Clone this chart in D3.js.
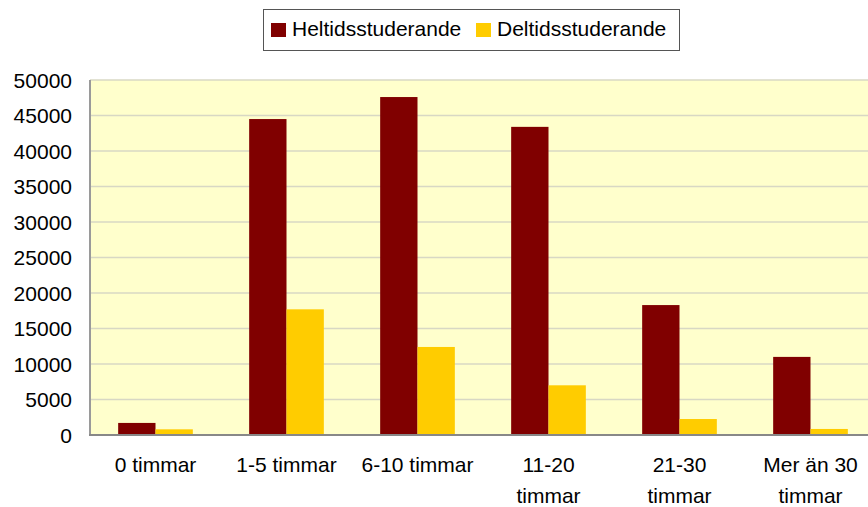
<!DOCTYPE html>
<html>
<head>
<meta charset="utf-8">
<script src="https://cdn.jsdelivr.net/npm/d3@7"></script>
<style>
  html, body { margin: 0; padding: 0; background: #fff; }
</style>
</head>
<body>
<div id="chart"></div>
<script>
// Data
const categories = ["0 timmar", "1-5 timmar", "6-10 timmar", "11-20 timmar", "21-30 timmar", "Mer än 30 timmar"];
const categoryLines = [["0 timmar"], ["1-5 timmar"], ["6-10 timmar"], ["11-20", "timmar"], ["21-30", "timmar"], ["Mer än 30", "timmar"]];
const seriesNames = ["Heltidsstuderande", "Deltidsstuderande"];
const heltid = [1700, 44500, 47600, 43400, 18300, 11000];
const deltid = [800, 17700, 12400, 7000, 2250, 850];
const yTicks = [0, 5000, 10000, 15000, 20000, 25000, 30000, 35000, 40000, 45000, 50000];

const colors = ["#800000", "#ffcc00"];

// Layout
const width = 868;
const height = 507;
const plot = { left: 90, top: 80, right: 876, bottom: 435 };
const fontFamily = "'Liberation Sans', Arial, sans-serif";
const fontSize = 21;

const svg = d3.select("#chart")
    .append("svg")
    .attr("width", width)
    .attr("height", height)
    .attr("font-family", fontFamily)
    .attr("font-size", fontSize);

const x = d3.scaleBand()
    .domain(categories)
    .range([plot.left, plot.right])
    .paddingInner(0.43)
    .paddingOuter(0.215);

const xSub = d3.scaleBand()
    .domain(seriesNames)
    .range([0, x.bandwidth()]);

const y = d3.scaleLinear()
    .domain([0, 50000])
    .range([plot.bottom, plot.top]);

// Plot background
svg.append("rect")
    .attr("x", plot.left)
    .attr("y", plot.top)
    .attr("width", plot.right - plot.left)
    .attr("height", plot.bottom - plot.top)
    .attr("fill", "#ffffcc");

// Gridlines
svg.append("g")
    .selectAll("line")
    .data(yTicks.filter(d => d > 0))
    .join("line")
    .attr("x1", plot.left)
    .attr("x2", plot.right)
    .attr("y1", d => y(d))
    .attr("y2", d => y(d))
    .attr("stroke", "#d8d8c4")
    .attr("stroke-width", 1.5);

// Bars
const rows = categories.map((c, i) => ({ category: c, values: [heltid[i], deltid[i]] }));

const group = svg.append("g")
    .selectAll("g")
    .data(rows)
    .join("g")
    .attr("transform", d => `translate(${x(d.category)},0)`);

group.selectAll("rect")
    .data(d => d.values.map((v, j) => ({ name: seriesNames[j], value: v, j })))
    .join("rect")
    .attr("x", d => xSub(d.name))
    .attr("y", d => y(d.value))
    .attr("width", xSub.bandwidth())
    .attr("height", d => y(0) - y(d.value))
    .attr("fill", d => colors[d.j]);

// Axis lines
svg.append("line")
    .attr("x1", plot.left).attr("x2", plot.left)
    .attr("y1", plot.top).attr("y2", plot.bottom)
    .attr("stroke", "#9a9a9a")
    .attr("stroke-width", 2);

svg.append("line")
    .attr("x1", plot.left - 1).attr("x2", plot.right)
    .attr("y1", plot.bottom).attr("y2", plot.bottom)
    .attr("stroke", "#888888")
    .attr("stroke-width", 2);

// Y tick labels
svg.append("g")
    .selectAll("text")
    .data(yTicks)
    .join("text")
    .attr("x", 72)
    .attr("y", d => y(d))
    .attr("dy", "0.36em")
    .attr("text-anchor", "end")
    .attr("fill", "#000")
    .text(d => d);

// Category labels
const catLabel = svg.append("g")
    .selectAll("text")
    .data(categories)
    .join("text")
    .attr("text-anchor", "middle")
    .attr("fill", "#000")
    .attr("x", d => x(d) + x.bandwidth() / 2)
    .attr("y", 472);

catLabel.selectAll("tspan")
    .data((d, i) => categoryLines[i])
    .join("tspan")
    .attr("x", function () { return d3.select(this.parentNode).attr("x"); })
    .attr("dy", (d, i) => i === 0 ? 0 : 31)
    .text(d => d);

// Legend
const legend = svg.append("g");

legend.append("rect")
    .attr("x", 263.5)
    .attr("y", 9.5)
    .attr("width", 416)
    .attr("height", 41)
    .attr("fill", "#fff")
    .attr("stroke", "#555")
    .attr("stroke-width", 1);

const legendItems = [
    { name: seriesNames[0], sx: 271, tx: 292 },
    { name: seriesNames[1], sx: 476, tx: 497 }
];

legendItems.forEach((item, i) => {
    legend.append("rect")
        .attr("x", item.sx)
        .attr("y", 23)
        .attr("width", 15)
        .attr("height", 14)
        .attr("fill", colors[i]);
    legend.append("text")
        .attr("x", item.tx)
        .attr("y", 36)
        .attr("fill", "#000")
        .text(item.name);
});
</script>
</body>
</html>
